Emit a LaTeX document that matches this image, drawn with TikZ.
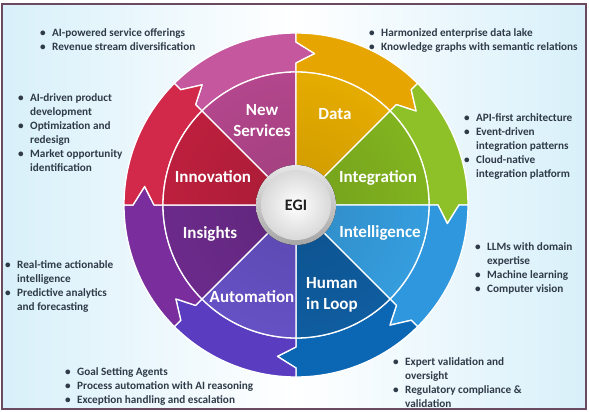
\documentclass[tikz,border=0pt]{standalone}
\usepackage{fontspec}
\setmainfont{Carlito}
\definecolor{bgblue}{HTML}{D8F0FA}
\definecolor{framec}{HTML}{6A4A60}
\definecolor{txt}{HTML}{2F3B48}
\definecolor{nsIn}{HTML}{C24C98}\definecolor{nsOut}{HTML}{C4579E}
\definecolor{daIn}{HTML}{F8BA00}\definecolor{daOut}{HTML}{E6A500}
\definecolor{igIn}{HTML}{8CC222}\definecolor{igOut}{HTML}{8EC127}
\definecolor{itIn}{HTML}{3AAAF0}\definecolor{itOut}{HTML}{2E97DE}
\definecolor{huIn}{HTML}{1064AC}\definecolor{huOut}{HTML}{0B66B4}
\definecolor{auIn}{HTML}{6E58D4}\definecolor{auOut}{HTML}{5A3CC0}
\definecolor{inIn}{HTML}{742E96}\definecolor{inOut}{HTML}{7A2E9E}
\definecolor{nvIn}{HTML}{CC2242}\definecolor{nvOut}{HTML}{D2284A}
\newcommand\bul{\makebox[12pt][l]{\textbullet}}
\newcommand\cnt{\hspace*{12pt}}
\newcommand\wheelarrow[2]{%
  \pgfmathsetmacro\aA{#1}\pgfmathsetmacro\aB{#1-45}%
  \pgfmathsetmacro\aT{#1-52}\pgfmathsetmacro\aN{#1-7}%
  \filldraw[fill=#2, seg] (\aA:172) arc[start angle=\aA, end angle=\aB, radius=172]
    -- (\aB:163) -- (\aT:152.5) -- (\aB:142) -- (\aB:133)
    arc[start angle=\aB, end angle=\aA, radius=133]
    -- (\aA:142) -- (\aN:152.5) -- (\aA:163) -- cycle;}
\newcommand\wheelsector[2]{%
  \pgfmathsetmacro\aA{#1}\pgfmathsetmacro\aB{#1-45}%
  \begin{scope}
    \clip (0,0) -- (\aA:133) arc[start angle=\aA, end angle=\aB, radius=133] -- cycle;
    \shade[inner color=#2!82!black, outer color=#2] (0,0) circle[radius=230];
  \end{scope}
  \draw[seg] (0,0) -- (\aA:133)
    arc[start angle=\aA, end angle=\aB, radius=133] -- cycle;}
\begin{document}
\begin{tikzpicture}[x=1pt,y=1pt,
  seg/.style={draw=white, line width=1.3pt, line join=round},
  bl/.style={anchor=north west, align=left, inner sep=0pt, text=txt,
    font=\bfseries\fontsize{11.2}{14}\selectfont},
  lab/.style={text=white, align=center, inner sep=0pt,
    font=\bfseries\fontsize{17}{21}\selectfont}]
\useasboundingbox (0,0) rectangle (589,412);
\fill[white] (0,0) rectangle (589,412);
\shade[left color=bgblue, right color=bgblue, middle color=white] (2,3) rectangle (586,408);
\draw[framec, line width=1.5pt] (2,3) rectangle (586,408);
\begin{scope}[shift={(296,207)}]
  \wheelarrow{135}{nsOut}
  \wheelarrow{90}{daOut}
  \wheelarrow{45}{igOut}
  \wheelarrow{0}{itOut}
  \wheelarrow{-45}{huOut}
  \wheelarrow{-90}{auOut}
  \wheelarrow{-135}{inOut}
  \wheelarrow{180}{nvOut}
  \wheelsector{135}{nsIn}
  \wheelsector{90}{daIn}
  \wheelsector{45}{igIn}
  \wheelsector{0}{itIn}
  \wheelsector{-45}{huIn}
  \wheelsector{-90}{auIn}
  \wheelsector{-135}{inIn}
  \wheelsector{180}{nvIn}
  \fill[top color=gray!20, bottom color=gray!70] (0,0) circle[radius=40];
  \node[circle, minimum size=70pt, inner sep=0pt, inner color=white, outer color=gray!30,
    text=black!88, font=\bfseries\fontsize{16}{18}\selectfont] (egi) at (0,0) {EGI};
\end{scope}
\node[lab] (newserv) at (262,291) {New\\Services};
\node[lab] (data) at (335,298) {Data};
\node[lab] (innov) at (213,235) {Innovation};
\node[lab] (integ) at (378,234) {Integration};
\node[lab] (insig) at (210,178) {Insights};
\node[lab] (intel) at (380,179) {Intelligence};
\node[lab] (autom) at (252,115) {Automation};
\node[lab, anchor=west, align=left] (human) at (306,117) {Human\\in Loop};
\node[bl] (l1) at (40,384) {\bul AI-powered service offerings\\\bul Revenue stream diversification};
\node[bl] (l2) at (18,319) {\bul AI-driven product\\\cnt development\\\bul Optimization and\\\cnt redesign\\\bul Market opportunity\\\cnt identification};
\node[bl] (l3) at (5,152) {\bul Real-time actionable\\\cnt intelligence\\\bul Predictive analytics\\\cnt and forecasting};
\node[bl] (l4) at (65,45) {\bul Goal Setting Agents\\\bul Process automation with AI reasoning\\\bul Exception handling and escalation};
\node[bl] (r1) at (369,384) {\bul Harmonized enterprise data lake\\\bul Knowledge graphs with semantic relations};
\node[bl] (r2) at (464,299) {\bul API-first architecture\\\bul Event-driven\\\cnt integration patterns\\\bul Cloud-native\\\cnt integration platform};
\node[bl] (r3) at (475,170) {\bul LLMs with domain\\\cnt expertise\\\bul Machine learning\\\bul Computer vision};
\node[bl] (r4) at (393,55) {\bul Expert validation and\\\cnt oversight\\\bul Regulatory compliance \&\\\cnt validation};
\end{tikzpicture}
\end{document}
